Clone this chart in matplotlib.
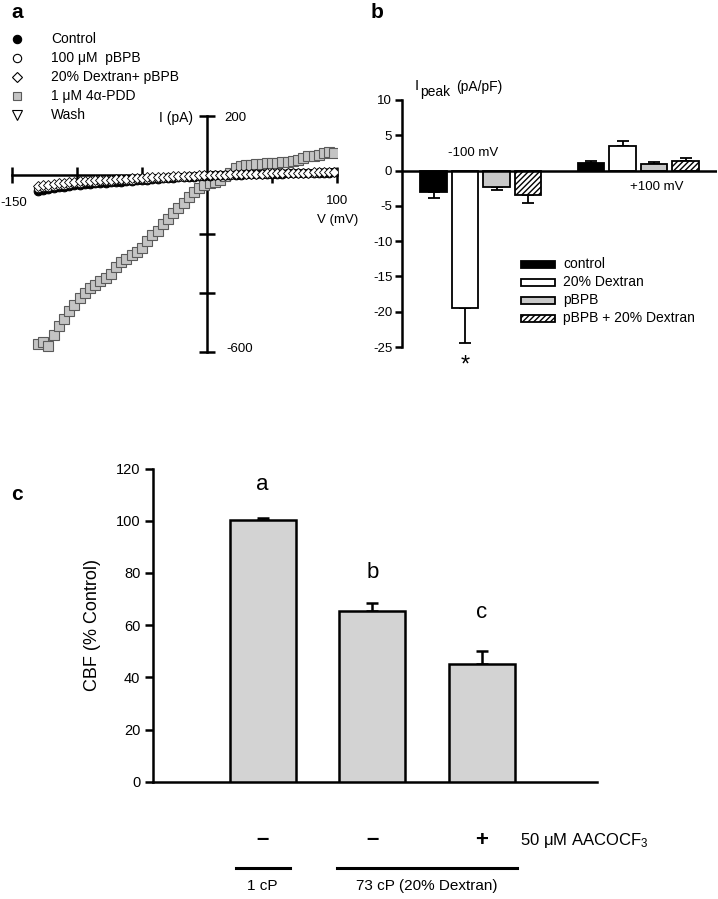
import matplotlib
matplotlib.use("Agg")
import matplotlib.pyplot as plt
from matplotlib.lines import Line2D
from matplotlib.patches import Rectangle
import matplotlib.transforms as mtransforms

plt.rcParams['font.family'] = ['Liberation Sans', 'DejaVu Sans']
plt.rcParams['mathtext.fontset'] = 'custom'
plt.rcParams['mathtext.rm'] = 'Liberation Sans'
plt.rcParams['mathtext.it'] = 'Liberation Sans:italic'
plt.rcParams['hatch.linewidth'] = 1.0
NARROW = ['Liberation Sans Narrow', 'Liberation Sans', 'DejaVu Sans']

# ---------------- Panel a data (I-V curves) ----------------
voltage_mv = [-130, -126, -122, -118, -114, -110, -106, -102, -98, -94,
              -90, -86, -82, -78, -74, -70, -66, -62, -58, -54,
              -50, -46, -42, -38, -34, -30, -26, -22, -18, -14,
              -10, -6, -2, 2, 6, 10, 14, 18, 22, 26,
              30, 34, 38, 42, 46, 50, 54, 58, 62, 66,
              70, 74, 78, 82, 86, 90, 94, 98]
i_control = [-55, -52, -49, -46, -43, -41, -39, -37, -35, -33,
             -32, -30, -29, -28, -26, -25, -24, -22, -21, -20,
             -18, -17, -16, -15, -13, -12, -11, -10, -9, -8,
             -7, -6, -5, -4, -3, -2, -2, -1, 0, 0,
             1, 1, 2, 2, 2, 3, 3, 3, 4, 4,
             4, 5, 5, 5, 6, 6, 6, 7]
i_pbpb = [-46, -43, -41, -38, -36, -34, -32, -30, -29, -27,
          -26, -24, -23, -22, -21, -20, -19, -18, -17, -16,
          -15, -14, -13, -12, -11, -10, -9, -8, -7, -6,
          -5, -4, -3, -2, -2, -1, 0, 0, 1, 1,
          2, 2, 3, 3, 3, 4, 4, 4, 5, 5,
          5, 6, 6, 6, 7, 7, 7, 8]
i_dextran_pbpb = [-38, -36, -34, -32, -30, -28, -26, -25, -23, -22,
                  -21, -20, -19, -18, -17, -16, -15, -14, -13, -12,
                  -11, -10, -10, -9, -8, -7, -6, -6, -5, -4,
                  -4, -3, -2, -2, -1, 0, 0, 1, 1, 2,
                  2, 3, 3, 3, 4, 4, 4, 5, 5, 5,
                  6, 6, 6, 7, 7, 7, 8, 8]
i_4apdd = [-575, -568, -580, -545, -515, -490, -462, -444, -420, -402,
           -385, -374, -362, -350, -338, -315, -298, -285, -274, -262,
           -248, -225, -206, -190, -168, -150, -130, -112, -95, -76,
           -58, -45, -35, -28, -24, -18, -6, 6, 22, 28,
           32, 33, 35, 36, 38, 39, 40, 42, 43, 45,
           50, 57, 62, 64, 66, 72, 75, 74]
i_wash = [-50, -47, -44, -42, -40, -37, -35, -33, -32, -30,
          -29, -27, -26, -25, -24, -23, -22, -20, -19, -18,
          -17, -16, -15, -14, -13, -12, -11, -10, -9, -8,
          -7, -6, -5, -4, -3, -3, -2, -1, -1, 0,
          0, 1, 1, 2, 2, 2, 3, 3, 3, 4,
          4, 4, 5, 5, 5, 6, 6, 7]
legend_a_labels = ['Control', '100 \u03bcM  pBPB', '20% Dextran+ pBPB',
                   '1 \u03bcM 4\u03b1-PDD', 'Wash']

# ---------------- Panel b data ----------------
b_groups = ['-100 mV', '+100 mV']
b_series = ['control', '20% Dextran', 'pBPB', 'pBPB + 20% Dextran']
b_neg_values = [-3.0, -19.5, -2.3, -3.5]
b_neg_err = [0.9, 4.9, 0.5, 1.1]
b_pos_values = [1.1, 3.5, 1.0, 1.4]
b_pos_err = [0.3, 0.7, 0.2, 0.4]
b_yticks = [10, 5, 0, -5, -10, -15, -20, -25]

# ---------------- Panel c data ----------------
c_values = [100.3, 65.5, 45.2]
c_err = [0.8, 3.1, 4.8]
c_letters = ['a', 'b', 'c']
c_signs = ['\u2013', '\u2013', '+']
c_yticks = [0, 20, 40, 60, 80, 100, 120]

W, H = 718, 899
fig = plt.figure(figsize=(W / 100, H / 100), dpi=100)


def fx(px):
    return px / W


def fy(py):
    return 1 - py / H


LW = 1.8

# ================= Panel a =================
axA = fig.add_axes([fx(12), fy(351.5), fx(337) - fx(12), fy(115.5) - fy(351.5)])
axA.set_xlim(-150, 100)
axA.set_ylim(-600, 200)
axA.patch.set_alpha(0)
for s in ['top', 'right']:
    axA.spines[s].set_visible(False)
axA.spines['left'].set_position(('data', 0))
axA.spines['bottom'].set_position(('data', 0))
axA.spines['left'].set_linewidth(LW)
axA.spines['bottom'].set_linewidth(LW)
axA.set_xticks([-150, -100, -50, 50, 100])
axA.set_yticks([200, -200, -400, -600])
axA.tick_params(axis='both', direction='inout', length=11, width=LW,
                labelbottom=False, labelleft=False)

axA.plot(voltage_mv, i_4apdd, ls='none', marker='s', ms=6.6, mfc='#c4c4c4',
         mec='#5a5a5a', mew=0.8, zorder=3)
axA.plot(voltage_mv, i_control, ls='none', marker='o', ms=6.3, mfc='black',
         mec='black', mew=0.7, zorder=4)
axA.plot(voltage_mv, i_wash, ls='none', marker='v', ms=6.3, mfc='white',
         mec='black', mew=0.6, zorder=4)
axA.plot(voltage_mv, i_pbpb, ls='none', marker='o', ms=6.0, mfc='white',
         mec='black', mew=0.6, zorder=5)
axA.plot(voltage_mv, i_dextran_pbpb, ls='none', marker='D', ms=5.3, mfc='white',
         mec='black', mew=0.6, zorder=5)

fs_a = 9.5
fig.text(fx(14), fy(203), '-150', ha='center', va='center', fontsize=fs_a)
fig.text(fx(337), fy(201), '100', ha='center', va='center', fontsize=fs_a)
fig.text(fx(338), fy(220), 'V (mV)', ha='center', va='center', fontsize=fs_a)
fig.text(fx(224), fy(118), '200', ha='left', va='center', fontsize=fs_a)
fig.text(fx(226), fy(349), '-600', ha='left', va='center', fontsize=fs_a)
fig.text(fx(193), fy(118), 'I (pA)', ha='right', va='center', fontsize=fs_a + 0.5)

leg_rows = [39, 58, 77, 96, 115]
leg_styles = [dict(marker='o', ms=6, mfc='black', mec='black'),
              dict(marker='o', ms=6, mfc='white', mec='black'),
              dict(marker='D', ms=5.3, mfc='white', mec='black'),
              dict(marker='s', ms=6, mfc='#c4c4c4', mec='#5a5a5a'),
              dict(marker='v', ms=6.5, mfc='white', mec='black')]
for lab, yy, st in zip(legend_a_labels, leg_rows, leg_styles):
    fig.add_artist(Line2D([fx(17)], [fy(yy)], transform=fig.transFigure,
                          ls='none', mew=0.8, **st))
    fig.text(fx(51), fy(yy), lab, ha='left', va='center', fontsize=fs_a + 0.5)

fig.text(fx(17), fy(12), 'a', ha='center', va='center', fontsize=15,
         fontweight='bold')

# ================= Panel b =================
axB = fig.add_axes([fx(402), fy(347), fx(717) - fx(402), fy(100) - fy(347)])
axB.set_xlim(-1, 9)
axB.set_ylim(-25, 10)
axB.patch.set_alpha(0)
for s in ['top', 'right', 'bottom']:
    axB.spines[s].set_visible(False)
axB.spines['left'].set_linewidth(LW)
axB.axhline(0, color='black', lw=LW, zorder=5)
axB.set_xticks([])
axB.set_yticks(b_yticks)
axB.set_yticklabels([str(t) for t in b_yticks])
axB.tick_params(axis='y', direction='out', length=5, width=LW, labelsize=9.5, pad=2)

b_faces = ['black', 'white', '#c8c8c8', 'white']
b_hatches = [None, None, None, '//////']
bw = 0.83
for i in range(4):
    for base, vals, errs, sign in [(0, b_neg_values, b_neg_err, -1),
                                   (5, b_pos_values, b_pos_err, 1)]:
        x = base + i
        axB.bar(x, vals[i], width=bw, color=b_faces[i], edgecolor='black',
                linewidth=1.3, hatch=b_hatches[i], zorder=3)
        yerr = [[0], [errs[i]]] if sign > 0 else [[errs[i]], [0]]
        axB.errorbar(x, vals[i], yerr=yerr, fmt='none', ecolor='black',
                     elinewidth=1.3, capsize=4, capthick=1.3, zorder=2)

axB.text(1.25, 2.5, b_groups[0], ha='center', va='center', fontsize=9.5)
axB.text(7.1, -2.3, b_groups[1], ha='center', va='center', fontsize=9.5)
axB.text(1, -27.6, '*', ha='center', va='center', fontsize=17)
fig.text(fx(415), fy(86), 'I', ha='left', va='center', fontsize=10.5)
fig.text(fx(420), fy(92), 'peak', ha='left', va='center', fontsize=10)
fig.text(fx(456), fy(87), '(pA/pF)', ha='left', va='center', fontsize=10)

leg_b_rows = [264, 282, 300, 318]
for lab, yy, fc, ht in zip(b_series, leg_b_rows, b_faces, b_hatches):
    fig.add_artist(Rectangle((fx(521), fy(yy + 3.5)), fx(555) - fx(521),
                             fy(yy - 3.5) - fy(yy + 3.5), transform=fig.transFigure,
                             facecolor=fc, edgecolor='black', linewidth=1.3,
                             hatch=ht))
    fig.text(fx(563), fy(yy), lab, ha='left', va='center', fontsize=10)

fig.text(fx(377), fy(12), 'b', ha='center', va='center', fontsize=15,
         fontweight='bold')

# ================= Panel c =================
axC = fig.add_axes([fx(153), fy(781.7), fx(597) - fx(153), fy(468.5) - fy(781.7)])
axC.set_xlim(0, 4.05)
axC.set_ylim(0, 120)
axC.patch.set_alpha(0)
for s in ['top', 'right']:
    axC.spines[s].set_visible(False)
axC.spines['left'].set_linewidth(LW)
axC.spines['bottom'].set_linewidth(LW)
axC.set_xticks([])
axC.set_yticks(c_yticks)
axC.set_yticklabels([str(t) for t in c_yticks], family=NARROW, fontsize=10.5)
axC.tick_params(axis='y', direction='out', length=6, width=LW, pad=3)

xs = [1, 2, 3]
axC.bar(xs, c_values, width=0.6, color='#d3d3d3', edgecolor='black',
        linewidth=1.8, zorder=3)
axC.errorbar(xs, c_values, yerr=[[0, 0, 0], c_err], fmt='none', ecolor='black',
             elinewidth=1.8, capsize=4, capthick=1.8, zorder=2)
letter_y = [113.7, 80.3, 65.0]
for x, l, ly in zip(xs, c_letters, letter_y):
    axC.text(x, ly, l, ha='center', va='center', fontsize=16, family=NARROW)

fig.text(fx(93), fy(625), 'CBF (% Control)', rotation=90, ha='center',
         va='center', fontsize=13)

trans = mtransforms.blended_transform_factory(axC.transData, fig.transFigure)
for x, s in zip(xs, c_signs):
    fig.text(x, fy(840), s, transform=trans, ha='center', va='center',
             fontsize=16, fontweight='bold')
fig.text(3.35, fy(840), '50 \u03bcM AACOCF$_3$', transform=trans, ha='left',
         va='center', fontsize=12, family=NARROW)
fig.add_artist(Line2D([0.76, 1.25], [fy(868), fy(868)], transform=trans,
                      color='black', lw=2.2))
fig.add_artist(Line2D([1.68, 3.32], [fy(868), fy(868)], transform=trans,
                      color='black', lw=2.2))
fig.text(1.0, fy(886), '1 cP', transform=trans, ha='center', va='center',
         fontsize=11, family=NARROW)
fig.text(2.5, fy(886), '73 cP (20% Dextran)', transform=trans, ha='center',
         va='center', fontsize=11, family=NARROW)

fig.text(fx(17), fy(494), 'c', ha='center', va='center', fontsize=15,
         fontweight='bold')

fig.savefig('out.png', dpi=100)
